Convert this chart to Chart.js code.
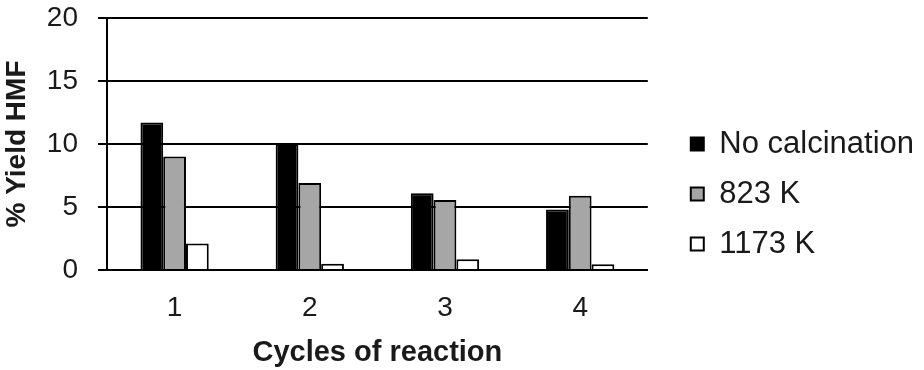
<!DOCTYPE html>
<html lang="en">
<head>
  <meta charset="UTF-8">
  <title>Yield HMF</title>
  <script src="https://cdn.jsdelivr.net/npm/chart.js"></script>
  <style>
    html, body { margin: 0; padding: 0; background: #fff; }
    #wrap { width: 924px; height: 370px; }
  </style>
</head>
<body>
  <div id="wrap"><canvas id="yieldChart"></canvas></div>
  <script>
    // data
    const cycles = ['1', '2', '3', '4']
    const noCalcination = [11.7, 10.0, 6.1, 4.8]
    const k823 = [9.0, 6.9, 5.55, 5.9]
    const k1173 = [2.1, 0.5, 0.85, 0.45]
    const seriesNames = ['No calcination', '823 K', '1173 K']
    const yTicks = [0, 5, 10, 15, 20]

    Chart.defaults.font.family = 'Liberation Sans, Arial, sans-serif'
    Chart.defaults.color = '#1a1a1a'

    const data = {
      labels: cycles,
      datasets: [
        { label: seriesNames[0], data: noCalcination, backgroundColor: '#000', borderColor: '#000', borderWidth: 2 },
        { label: seriesNames[1], data: k823, backgroundColor: '#a6a6a6', borderColor: '#000', borderWidth: 2 },
        { label: seriesNames[2], data: k1173, backgroundColor: '#fff', borderColor: '#000', borderWidth: 2 }
      ]
    }

    const config = {
      type: 'bar',
      data: data,
      options: {
        responsive: true,
        maintainAspectRatio: false,
        animation: false,
        layout: { padding: { top: 18, right: 0, bottom: 0, left: 0 } },
        datasets: { bar: { categoryPercentage: 0.505, barPercentage: 1.0 } },
        plugins: {
          tooltip: { enabled: false },
          legend: {
            position: 'right',
            align: 'center',
            maxWidth: 300,
            labels: {
              boxWidth: 13,
              boxHeight: 13,
              padding: 19,
              font: { size: 31 },
              color: '#1a1a1a'
            }
          }
        },
        scales: {
          x: {
            grid: { display: false, drawTicks: false },
            border: { display: true, color: '#000', width: 2 },
            ticks: { font: { size: 28 }, padding: 21 },
            title: { display: true, text: 'Cycles of reaction', font: { size: 29, weight: 'bold' }, padding: 0 },
            afterFit: function (axis) {
              axis.height = 100
              axis.paddingLeft = 0
              axis.paddingRight = 0
            }
          },
          y: {
            min: 0,
            max: 20,
            afterBuildTicks: function (axis) {
              axis.ticks = yTicks.map(v => ({ value: v }))
            },
            grid: { color: '#000', lineWidth: 2, tickLength: 9 },
            border: { display: true, color: '#000', width: 2 },
            ticks: { font: { size: 28 }, padding: 20 },
            title: { display: true, text: '% Yield HMF', font: { size: 28, weight: 'bold' }, padding: 0 },
            afterFit: function (axis) {
              axis.width = 107
              axis.paddingTop = 0
              axis.paddingBottom = 0
            }
          },
          // empty axis, only keeps a gap between the plot and the legend
          gap: {
            type: 'linear',
            position: 'right',
            grid: { display: false, drawTicks: false },
            border: { display: false },
            ticks: { display: false },
            afterFit: function (axis) {
              axis.width = 24
              axis.paddingTop = 0
              axis.paddingBottom = 0
            }
          }
        }
      }
    }

    const yieldChart = new Chart(document.getElementById('yieldChart'), config)
  </script>
</body>
</html>
